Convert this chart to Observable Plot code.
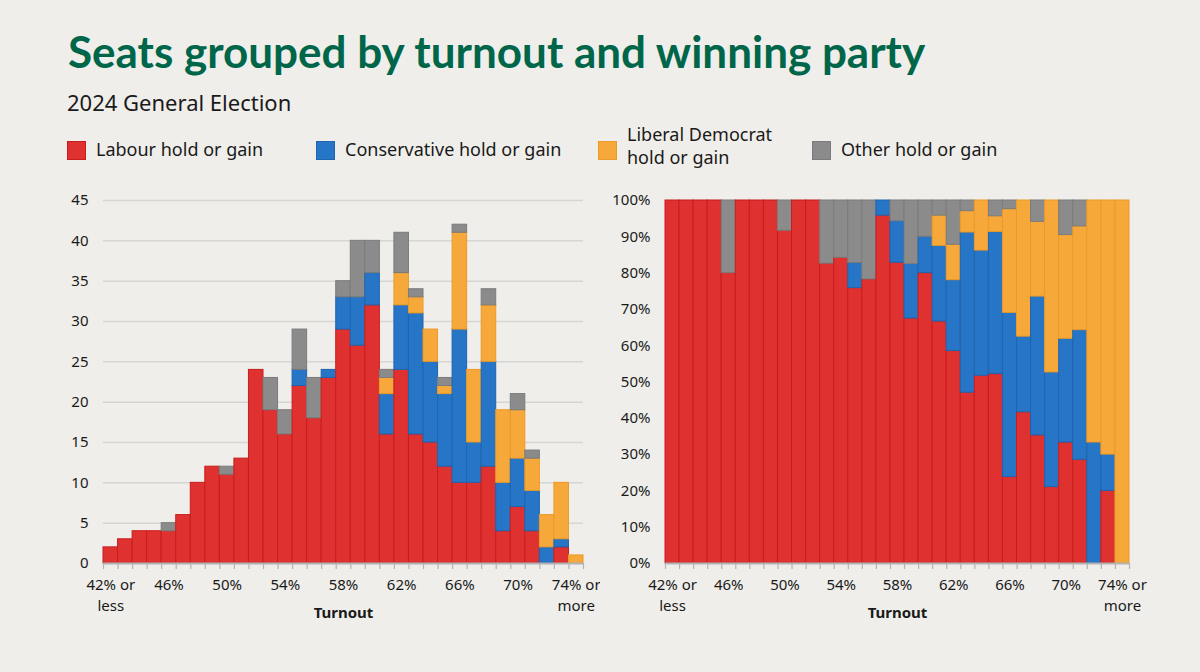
<!DOCTYPE html>
<html>
<head>
<meta charset="utf-8">
<script src="https://cdn.jsdelivr.net/npm/d3@7"></script>
<script src="https://cdn.jsdelivr.net/npm/@observablehq/plot@0.6"></script>
<style>
  html, body { margin: 0; padding: 0; background: #efeeea; }
  body { width: 1200px; height: 672px; position: relative; overflow: hidden; font-family: "Noto Sans", sans-serif; color: #1a1a1a; }
  .title { position: absolute; left: 68px; top: 29px; font-family: Lato, "Noto Sans", sans-serif; font-weight: 700; font-size: 44px; line-height: 1; color: #00664a; white-space: nowrap; }
  .subtitle { position: absolute; left: 67px; top: 91px; font-size: 22px; line-height: 1; white-space: nowrap; }
  .legend-item { position: absolute; top: 127px; height: 46px; display: flex; align-items: center; font-size: 18px; line-height: 1.3; }
  .swatch { width: 19px; height: 19px; box-sizing: border-box; border: 1px solid; margin-right: 10px; flex: none; }
  .chart { position: absolute; top: 180px; }
</style>
</head>
<body>
<div class="title">Seats grouped by turnout and winning party</div>
<div class="subtitle">2024 General Election</div>
<div id="legend"></div>
<div class="chart" id="left" style="left:0px"></div>
<div class="chart" id="right" style="left:600px"></div>
<script>
// Turnout bins (1% wide; first is "42% or less", last "74% or more")
const turnout = [42,43,44,45,46,47,48,49,50,51,52,53,54,55,56,57,58,59,60,61,62,63,64,65,66,67,68,69,70,71,72,73,74];
const labour       = [2,3,4,4,4,6,10,12,11,13,24,19,16,22,18,23,29,27,32,16,24,16,15,12,10,10,12,4,7,4,0,2,0];
const conservative = [0,0,0,0,0,0,0,0,0,0,0,0,0,2,0,1,4,6,4,5,8,15,10,9,19,5,13,6,6,5,2,1,0];
const libdem       = [0,0,0,0,0,0,0,0,0,0,0,0,0,0,0,0,0,0,0,2,4,2,4,1,12,9,7,9,6,4,4,7,1];
const other        = [0,0,0,0,1,0,0,0,1,0,0,4,3,5,5,0,2,7,4,1,5,1,0,1,1,0,2,0,2,1,0,0,0];

const parties = ["Labour", "Conservative", "Liberal Democrat", "Other"];
const legendLabels = ["Labour hold or gain", "Conservative hold or gain", "Liberal Democrat\nhold or gain", "Other hold or gain"];
const fillColors = ["#e03131", "#2775c7", "#f6a93a", "#8b8b8b"];
const strokeColors = ["#c81d1d", "#1f64ae", "#eb9a27", "#7b7b7b"];

const tickValues = [42,46,50,54,58,62,66,70,74];
const tickLabels = ["42% or\nless","46%","50%","54%","58%","62%","66%","70%","74% or\nmore"];
const countTicks = [0,5,10,15,20,25,30,35,40,45];
const shareTicks = [0,0.1,0.2,0.3,0.4,0.5,0.6,0.7,0.8,0.9,1];

// legend
const legendX = [67, 316, 598, 812];
const legend = document.getElementById("legend");
legendLabels.forEach((lab, i) => {
  const item = document.createElement("div");
  item.className = "legend-item";
  item.style.left = legendX[i] + "px";
  const sw = document.createElement("div");
  sw.className = "swatch";
  sw.style.background = fillColors[i];
  sw.style.borderColor = strokeColors[i];
  const tx = document.createElement("div");
  tx.style.whiteSpace = "pre";
  if (lab.includes("\n")) tx.style.transform = "translateY(-4px)";
  tx.textContent = lab;
  item.appendChild(sw); item.appendChild(tx);
  legend.appendChild(item);
});

const series = [labour, conservative, libdem, other];
const rows = [];
turnout.forEach((t, i) => {
  parties.forEach((p, j) => {
    const v = series[j][i];
    if (v > 0) rows.push({t, party: p, v, fill: fillColors[j], stroke: strokeColors[j]});
  });
});
const boundaries = turnout.map(t => t - 0.5).concat([turnout[turnout.length - 1] + 0.5]);
const labelRows = tickValues.map((t, i) => ({t, label: tickLabels[i]}));

const common = (normalize) => [
  Plot.rectY(rows, {
    x1: d => d.t - 0.5, x2: d => d.t + 0.5, y: "v",
    fill: "fill", stroke: "stroke", strokeWidth: 1,
    offset: normalize ? "normalize" : null
  }),
  Plot.ruleY([0], {stroke: "#b3b3b3", strokeWidth: 2}),
  Plot.axisX({ticks: boundaries, tickFormat: () => "", label: null, tickSize: 6, stroke: "#b3b3b3", strokeWidth: 1.2}),
  Plot.text(labelRows, {x: "t", text: "label", frameAnchor: "bottom", lineAnchor: "top", dy: 12, lineHeight: 1.4, fontSize: 15, fill: "#1a1a1a"}),
  Plot.text(["Turnout"], {frameAnchor: "bottom", dy: 54, fontSize: 15, fontWeight: "bold", fill: "#1a1a1a"})
];

const leftChart = Plot.plot({
  width: 600, height: 450,
  marginTop: 20, marginBottom: 67, marginLeft: 103, marginRight: 17,
  style: {fontFamily: "Noto Sans", fontSize: "15px", background: "transparent", color: "#1a1a1a"},
  x: {type: "linear", domain: [41.5, 74.5], axis: null},
  y: {domain: [0, 45], axis: null},
  color: {type: "identity"},
  marks: [
    Plot.gridY(countTicks, {stroke: "#d6d5d1", strokeOpacity: 1, strokeWidth: 1.5}),
    Plot.axisY(countTicks, {tickSize: 0, tickPadding: 15, fontSize: 15, label: null, tickFormat: d => d}),
    ...common(false)
  ]
});
document.getElementById("left").appendChild(leftChart);

const rightChart = Plot.plot({
  width: 600, height: 450,
  marginTop: 20, marginBottom: 67, marginLeft: 65, marginRight: 71,
  style: {fontFamily: "Noto Sans", fontSize: "15px", background: "transparent", color: "#1a1a1a"},
  x: {type: "linear", domain: [41.5, 74.5], axis: null},
  y: {domain: [0, 1], axis: null},
  color: {type: "identity"},
  marks: [
    Plot.axisY(shareTicks, {tickSize: 0, tickPadding: 15, fontSize: 15, label: null, tickFormat: d3.format(".0%")}),
    ...common(true)
  ]
});
document.getElementById("right").appendChild(rightChart);
</script>
</body>
</html>
